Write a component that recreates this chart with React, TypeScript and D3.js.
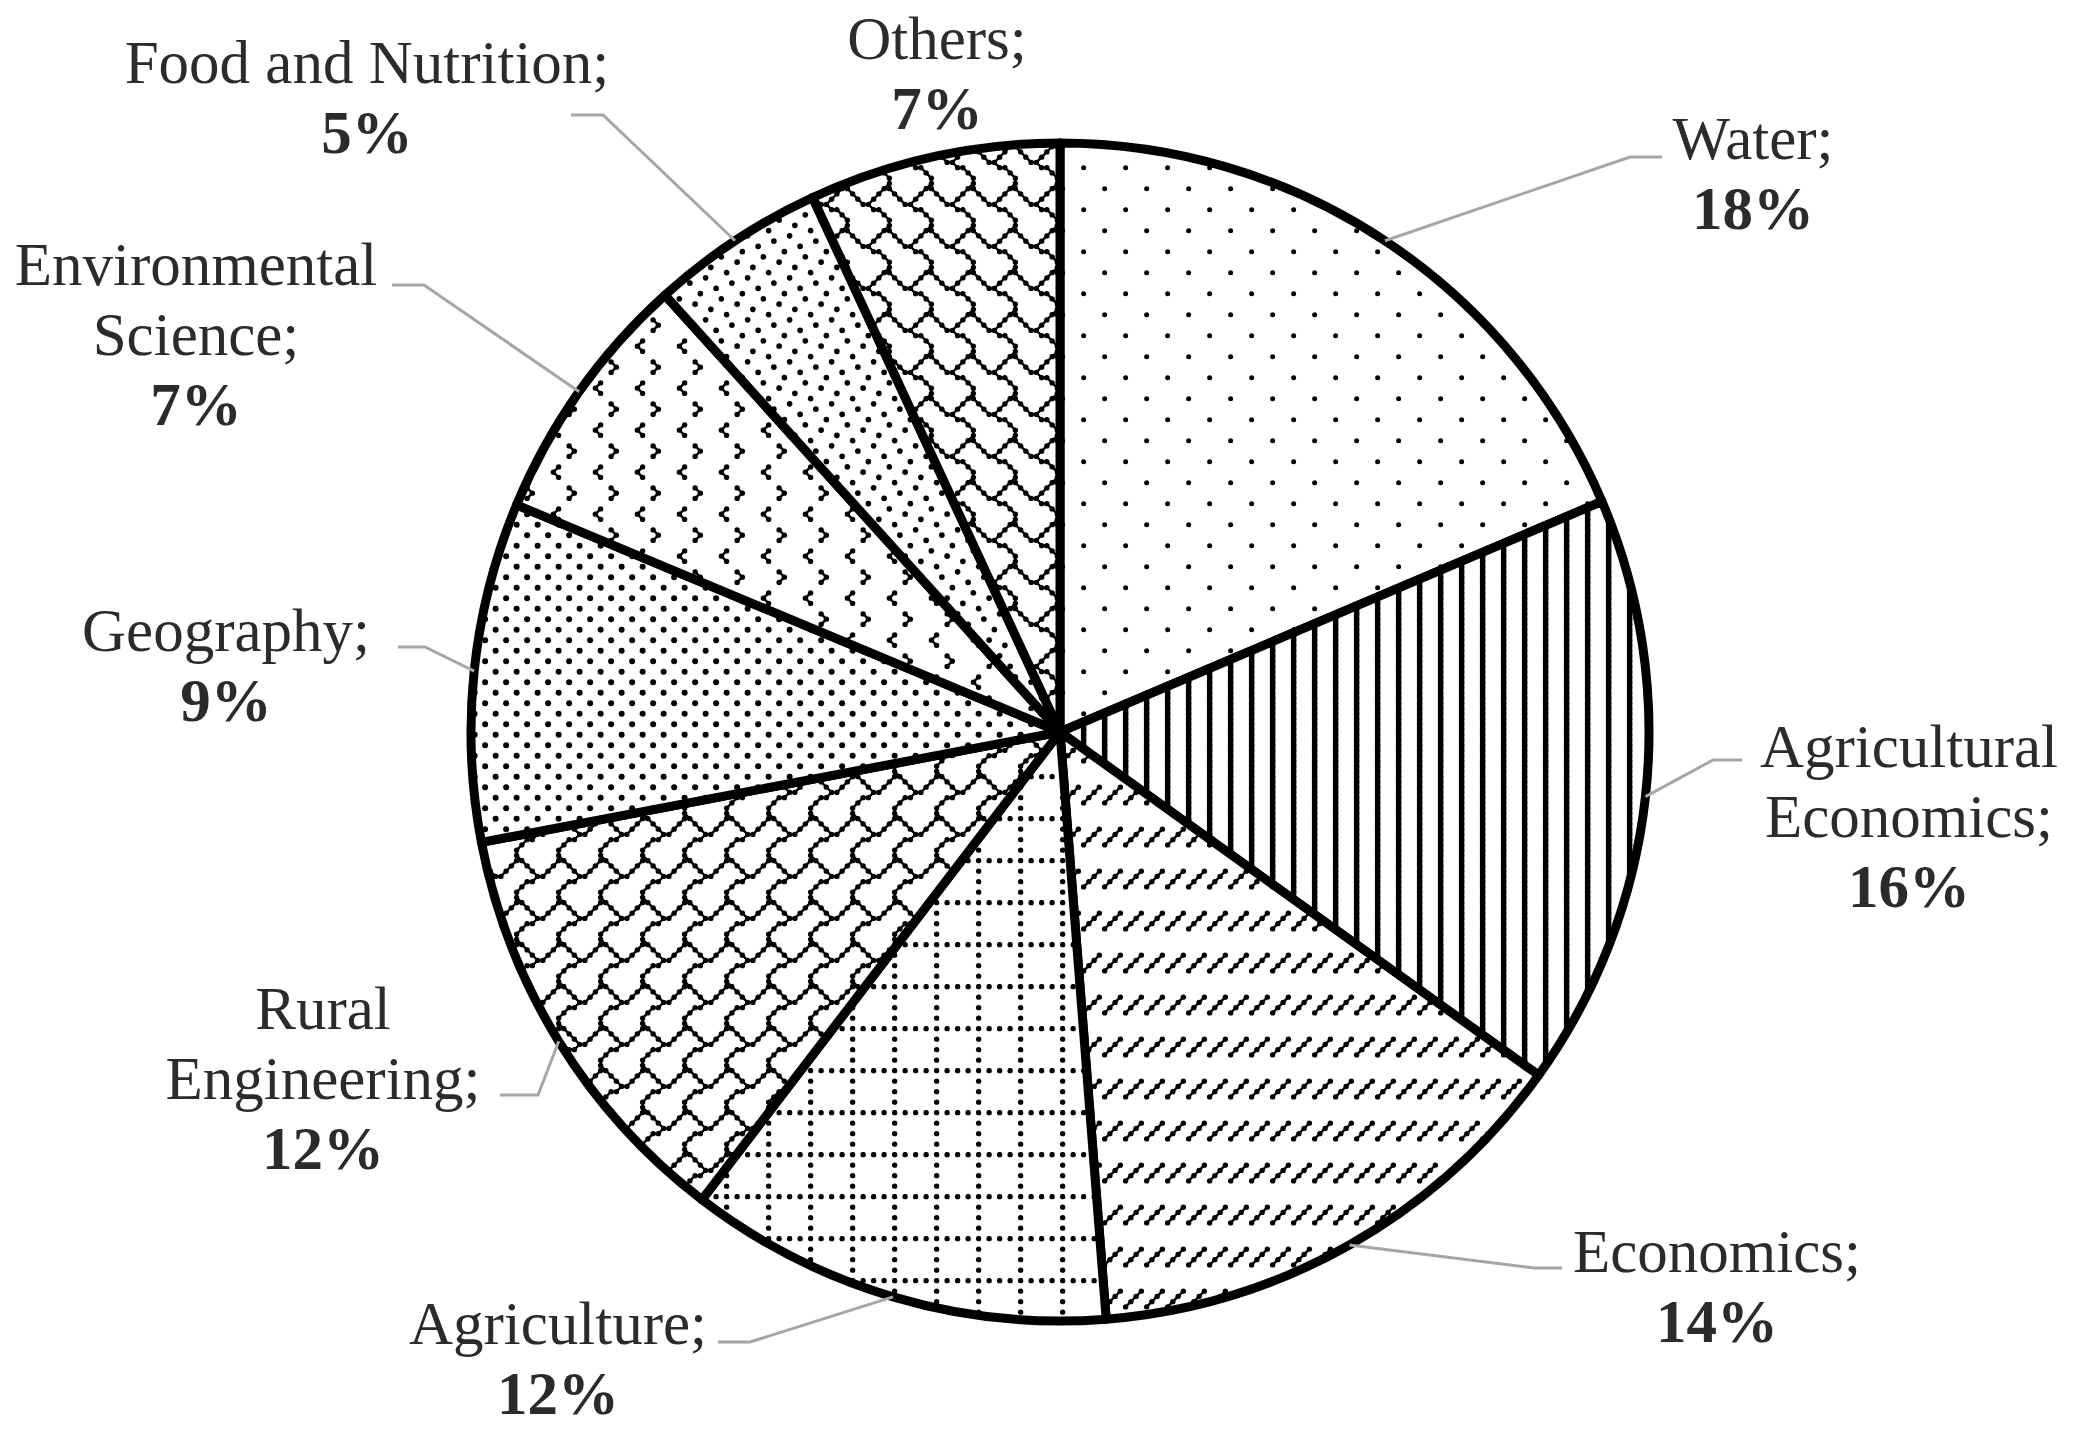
import React, { useEffect, useRef } from 'react';
import * as d3 from 'd3';

// slice data, clockwise from 12 o'clock
const categories = ['Water', 'Agricultural Economics', 'Economics', 'Agriculture', 'Rural Engineering', 'Geography', 'Environmental Science', 'Food and Nutrition', 'Others'];
const shares = [18.6, 16.3, 13.85, 11.65, 11.6, 9.3, 7.0, 4.8, 6.9];
const shareLabels = ['18%', '16%', '14%', '12%', '12%', '9%', '7%', '5%', '7%'];
const nameLines = [['Water;'], ['Agricultural', 'Economics;'], ['Economics;'], ['Agriculture;'], ['Rural', 'Engineering;'], ['Geography;'], ['Environmental', 'Science;'], ['Food and Nutrition;'], ['Others;']];
const patternNames = ['dots5', 'vert', 'dashUp', 'dotGrid', 'shingleR', 'pct20', 'divot', 'confetti', 'shingle'];

// 8x8 excel-style fill bitmaps (msb = left pixel)
const bitmaps: Record<string, { bits: number[]; r: number; w: number }> = {
  dots5: { bits: [0x80, 0, 0, 0, 0x08, 0, 0, 0], r: 2.5, w: 0 },
  vert: { bits: [0x88, 0x88, 0x88, 0x88, 0x88, 0x88, 0x88, 0x88], r: 2.7, w: 5.4 },
  dashUp: { bits: [0, 0, 0x11, 0x22, 0x44, 0x88, 0, 0], r: 2.7, w: 2.3 },
  dotGrid: { bits: [0xaa, 0, 0x80, 0, 0x80, 0, 0x80, 0], r: 2.7, w: 0 },
  shingleR: { bits: [0xc0, 0x21, 0x12, 0x0c, 0x30, 0x40, 0x80, 0x80], r: 2.7, w: 2.3 },
  pct20: { bits: [0x88, 0, 0x22, 0, 0x88, 0, 0x22, 0], r: 3.0, w: 0 },
  divot: { bits: [0, 0x20, 0x10, 0x20, 0, 0x80, 0x01, 0x80], r: 2.7, w: 2.3 },
  confetti: { bits: [0x80, 0x08, 0x40, 0x02, 0x10, 0x01, 0x20, 0x04], r: 2.8, w: 0 },
  shingle: { bits: [0x03, 0x84, 0x48, 0x30, 0x0c, 0x02, 0x01, 0x01], r: 2.7, w: 2.3 },
};

// label placement (text centre / first baseline, leader elbow, leader end)
const labelLayout = [
  { x: 1753, y: 159, elbow: [1630, 157], endX: 1662 },
  { x: 1909, y: 767, elbow: [1713, 760], endX: 1742 },
  { x: 1717, y: 1272, elbow: [1534, 1268], endX: 1562 },
  { x: 558, y: 1344, elbow: [750, 1342], endX: 718 },
  { x: 323, y: 1029, elbow: [538, 1095], endX: 500 },
  { x: 226, y: 651, elbow: [425, 647], endX: 398 },
  { x: 196, y: 285, elbow: [424, 285], endX: 392 },
  { x: 367, y: 83, elbow: [603, 115], endX: 571 },
  { x: 937, y: 59, elbow: null, endX: 0 },
];

const W = 2082;
const H = 1443;
const U = 5.25; // one pattern pixel

const App = () => {
  const svgRef = useRef<SVGSVGElement>(null);

  useEffect(() => {
    if (!svgRef.current) return;
    const svg = d3.select(svgRef.current);
    svg.selectAll('*').remove();

    const cx = 1060;
    const cy = 732;
    const radius = 589;
    const lineH = 70;
    const font = "'Liberation Serif', 'Times New Roman', serif";
    const textColor = '#2b2b2b';

    // patterns
    const defs = svg.append('defs');
    Object.entries(bitmaps).forEach(([name, bm]) => {
      const isSet = (i: number, j: number) => (bm.bits[((j % 8) + 8) % 8] & (0x80 >> (((i % 8) + 8) % 8))) !== 0;
      const pat = defs.append('pattern')
        .attr('id', `pat-${name}`)
        .attr('patternUnits', 'userSpaceOnUse')
        .attr('width', 8 * U)
        .attr('height', 8 * U);
      pat.append('rect').attr('width', 8 * U).attr('height', 8 * U).attr('fill', 'white');
      const dirs = [[1, 0], [0, 1], [1, 1], [-1, 1]];
      for (let oy = -1; oy <= 1; oy++) {
        for (let ox = -1; ox <= 1; ox++) {
          for (let j = 0; j < 8; j++) {
            for (let i = 0; i < 8; i++) {
              if (!isSet(i, j)) continue;
              const px = (i + ox * 8 + 0.5) * U;
              const py = (j + oy * 8 + 0.5) * U;
              if (bm.w > 0) {
                dirs.forEach(([dx, dy]) => {
                  if (isSet(i + dx, j + dy)) {
                    pat.append('line')
                      .attr('x1', px).attr('y1', py)
                      .attr('x2', px + dx * U).attr('y2', py + dy * U)
                      .attr('stroke', 'black')
                      .attr('stroke-width', bm.w);
                  }
                });
              }
              pat.append('circle').attr('cx', px).attr('cy', py).attr('r', bm.r).attr('fill', 'black');
            }
          }
        }
      }
    });

    const pie = d3.pie<number>().sort(null).value(d => d);
    const arcs = pie(shares);
    const arc = d3.arc<d3.PieArcDatum<number>>().innerRadius(0).outerRadius(radius);

    const g = svg.append('g').attr('transform', `translate(${cx},${cy})`);
    g.selectAll('path.slice')
      .data(arcs)
      .enter().append('path')
      .attr('class', 'slice')
      .attr('d', arc)
      .attr('fill', (d, i) => `url(#pat-${patternNames[i]})`)
      .attr('stroke', 'black')
      .attr('stroke-width', 9)
      .attr('stroke-linejoin', 'round');

    // leader lines
    arcs.forEach((d, i) => {
      const lay = labelLayout[i];
      if (!lay.elbow) return;
      const a = (d.startAngle + d.endAngle) / 2;
      const sx = cx + radius * Math.sin(a);
      const sy = cy - radius * Math.cos(a);
      const path = d3.path();
      path.moveTo(sx, sy);
      path.lineTo(lay.elbow[0], lay.elbow[1]);
      path.lineTo(lay.endX, lay.elbow[1]);
      svg.append('path')
        .attr('d', path.toString())
        .attr('fill', 'none')
        .attr('stroke', '#a6a6a6')
        .attr('stroke-width', 3);
    });

    // labels
    categories.forEach((c, i) => {
      const lay = labelLayout[i];
      const t = svg.append('text')
        .attr('x', lay.x)
        .attr('y', lay.y)
        .attr('text-anchor', 'middle')
        .style('font-family', font)
        .style('font-size', '61px')
        .attr('fill', textColor);
      nameLines[i].forEach((ln, k) => {
        t.append('tspan').attr('x', lay.x).attr('y', lay.y + k * lineH).text(ln);
      });
      t.append('tspan')
        .attr('x', lay.x)
        .attr('y', lay.y + nameLines[i].length * lineH)
        .style('font-weight', 'bold')
        .text(shareLabels[i]);
    });
  }, []);

  return (
    <svg
      ref={svgRef}
      width={W}
      height={H}
      viewBox={`0 0 ${W} ${H}`}
      style={{ position: 'absolute', left: 0, top: 0, background: 'white', display: 'block' }}
    />
  );
};

export default App;
